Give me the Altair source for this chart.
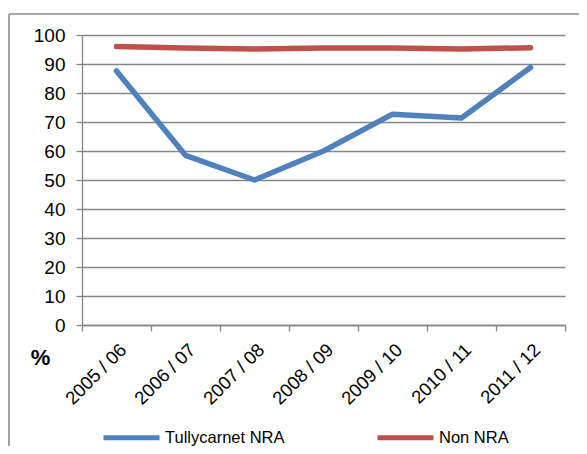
import altair as alt
import pandas as pd

years = ["2005 / 06", "2006 / 07", "2007 / 08", "2008 / 09", "2009 / 10", "2010 / 11", "2011 / 12"]
tullycarnet = [87.6, 58.5, 50.0, 60.0, 72.7, 71.4, 88.8]
non_nra = [96.0, 95.5, 95.2, 95.5, 95.5, 95.2, 95.6]
series = ["Tullycarnet NRA", "Non NRA"]
colors = ["#4F81BD", "#C0504D"]

rows = []
for s, vals in zip(series, [tullycarnet, non_nra]):
    for y, v in zip(years, vals):
        rows.append({"year": y, "value": v, "series": s})
df = pd.DataFrame(rows)

FONT = "Liberation Sans"
GRAY = "#868686"

lines = alt.Chart(df).mark_line(strokeWidth=5.5, strokeCap="round", strokeJoin="round").encode(
    x=alt.X("year:N", sort=years, bandPosition=0.5,
            scale=alt.Scale(type="band", paddingInner=0, paddingOuter=0),
            axis=alt.Axis(title=None, tickBand="extent", labelAngle=-45, labelAlign="right",
                          labelBaseline="top", labelFontSize=18.5, labelFont=FONT, labelColor="#000",
                          labelPadding=9, domainColor=GRAY, tickColor=GRAY, tickSize=6,
                          domainWidth=1.3, tickWidth=1.3, grid=False)),
    y=alt.Y("value:Q", scale=alt.Scale(domain=[0, 100]),
            axis=alt.Axis(title="%", titleAngle=0, titleX=-42, titleY=322, titleAlign="center",
                          titleBaseline="middle", titleFontSize=22, titleFontWeight="bold",
                          titleFont=FONT, titleColor="#000",
                          values=list(range(0, 101, 10)), labelFontSize=19, labelFont=FONT,
                          labelColor="#000", labelPadding=11, tickSize=6, tickColor=GRAY,
                          domainColor=GRAY, gridColor=GRAY, gridWidth=1.3, domainWidth=1.3,
                          tickWidth=1.3)),
    color=alt.Color("series:N", sort=series,
                    scale=alt.Scale(domain=series, range=colors),
                    legend=alt.Legend(title=None, orient="none", legendX=19, legendY=372,
                                      direction="horizontal", symbolType="stroke",
                                      symbolSize=3136, symbolStrokeWidth=5,
                                      labelFontSize=16.5, labelFont=FONT, labelColor="#000",
                                      labelOffset=3, columnPadding=82)),
)

frame_df = pd.DataFrame({"k": [0]})
left_border = alt.Chart(frame_df).mark_rule(color="#8a8a8a", strokeWidth=1.6).encode(
    x=alt.value(-73), y=alt.value(-21), y2=alt.value(430))
top_border = alt.Chart(frame_df).mark_rule(color="#8a8a8a", strokeWidth=1.6).encode(
    x=alt.value(-73), x2=alt.value(600), y=alt.value(-21))

chart = alt.layer(left_border, top_border, lines).properties(
    width=483, height=290,
    autosize=alt.AutoSizeParams(type="none"),
    padding={"left": 74, "top": 27, "right": 14, "bottom": 121},
).configure_view(stroke=None)

chart.save("out.html", embed_options={"renderer": "svg", "actions": False})
